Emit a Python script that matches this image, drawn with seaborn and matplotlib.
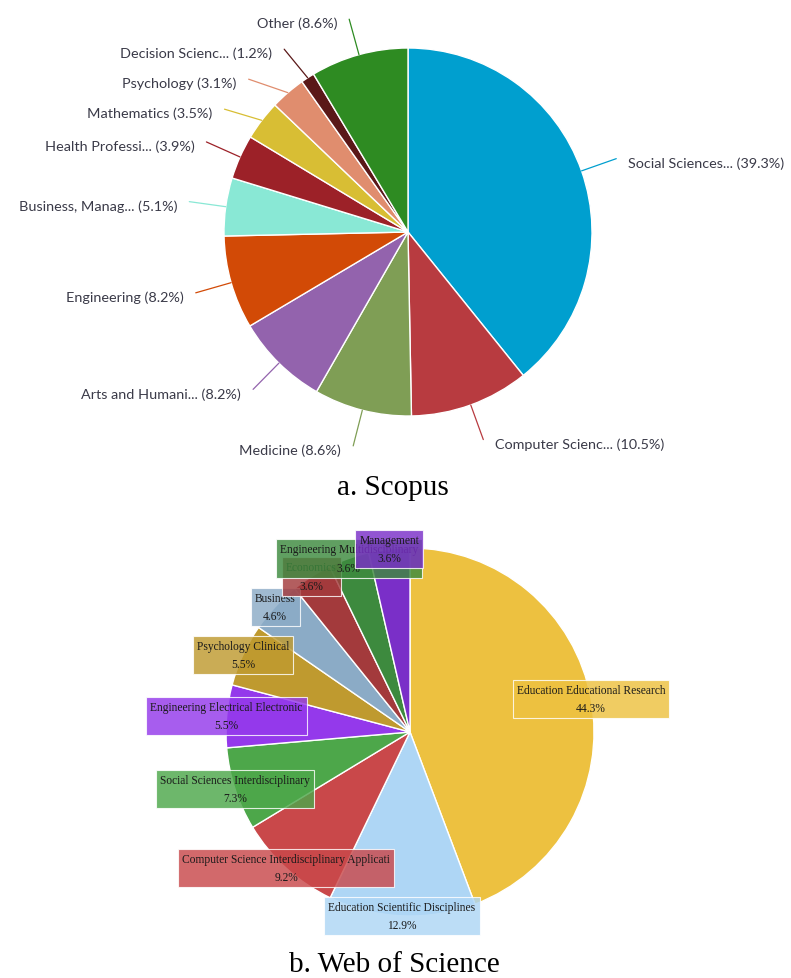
import numpy as np
import seaborn as sns
from matplotlib import pyplot as plt

# Scopus subject areas (clockwise from 12 o'clock)
scopus_labels = ["Social Sciences...", "Computer Scienc...", "Medicine", "Arts and Humani...",
                 "Engineering", "Business, Manag...", "Health Professi...", "Mathematics",
                 "Psychology", "Decision Scienc...", "Other"]
scopus_share = [39.3, 10.5, 8.6, 8.2, 8.2, 5.1, 3.9, 3.5, 3.1, 1.2, 8.6]
scopus_colors = ["#009fcf", "#b83b40", "#7f9e55", "#9363ad", "#d24a06", "#89e8d5",
                 "#9c2128", "#d8be34", "#e08d6e", "#5a1818", "#2e8b22"]

# Web of Science categories (clockwise from 12 o'clock)
wos_labels = ["Education Educational Research", "Education Scientific Disciplines",
              "Computer Science Interdisciplinary Applicati", "Social Sciences Interdisciplinary",
              "Engineering Electrical Electronic", "Psychology Clinical", "Business",
              "Economics", "Engineering Multidisciplinary", "Management"]
wos_share = [44.3, 12.9, 9.2, 7.3, 5.5, 5.5, 4.6, 3.6, 3.6, 3.6]
wos_colors = ["#edc140", "#aed6f5", "#c9484a", "#4da74a", "#9439eb", "#bf9a2f",
              "#8babc6", "#a33a3c", "#3d8a3e", "#7a2fc8"]

W, H = 791, 979
R = 184


def scopus_pie(ax, cx, cy):
    wedges, _ = ax.pie(scopus_share, colors=scopus_colors, startangle=90, counterclock=False,
                       center=(cx, cy), radius=R,
                       wedgeprops=dict(edgecolor="white", linewidth=1))
    rl = R * 1.2
    items = []
    for w, name, val, col in zip(wedges, scopus_labels, scopus_share, scopus_colors):
        th = np.deg2rad((w.theta1 + w.theta2) / 2)
        ex, ey = cx + R * np.cos(th), cy + R * np.sin(th)
        ly = cy + rl * np.sin(th)
        side = 1 if np.cos(th) >= 0 else -1
        items.append(dict(ex=ex, ey=ey, ly=ly, side=side, col=col, txt=f"{name} ({val}%)"))

    # push labels apart on each side (top to bottom)
    for side in (1, -1):
        grp = sorted([it for it in items if it["side"] == side], key=lambda d: -d["ly"])
        for a, b in zip(grp, grp[1:]):
            if a["ly"] - b["ly"] < 30:
                b["ly"] = a["ly"] - 30

    for it in items:
        dy = min(abs(it["ly"] - cy), rl)
        lx = cx + it["side"] * np.sqrt(rl ** 2 - dy ** 2)
        ax.plot([it["ex"], lx], [it["ey"], it["ly"]], color=it["col"], lw=0.9)
        ax.text(lx + it["side"] * 12, it["ly"] - 4, it["txt"], ha="left" if it["side"] > 0 else "right",
                va="center", fontsize=10.4, color="#3a3a48", family="Lato")


def wos_pie(ax, cx, cy):
    labels = [f"{n}\n{v}%" for n, v in zip(wos_labels, wos_share)]
    wedges, texts = ax.pie(wos_share, colors=wos_colors, startangle=90, counterclock=False,
                           center=(cx, cy), radius=R, labels=labels, labeldistance=1.0,
                           wedgeprops=dict(edgecolor="white", linewidth=1),
                           textprops=dict(ha="center", va="center", fontsize=8.3,
                                          family="Liberation Serif", color="#1a1a1a",
                                          linespacing=1.7))
    for t, col in zip(texts, wos_colors):
        t.set_bbox(dict(boxstyle="square,pad=0.35", facecolor=col, alpha=0.82,
                        edgecolor="white", linewidth=0.8))


sns.set_style("white")
fig = plt.figure(figsize=(W / 100, H / 100), dpi=100)
ax = fig.add_axes([0, 0, 1, 1])

scopus_pie(ax, 408, H - 233)
wos_pie(ax, 410, H - 733)

ax.text(393, H - 488, "a. Scopus", ha="center", va="center", fontsize=21,
        family="Liberation Serif", color="black")
ax.text(394, H - 965, "b. Web of Science", ha="center", va="center", fontsize=21,
        family="Liberation Serif", color="black")

ax.set_xlim(0, W)
ax.set_ylim(0, H)
ax.set_aspect("equal")
ax.axis("off")

fig.savefig("out.png", dpi=100)
